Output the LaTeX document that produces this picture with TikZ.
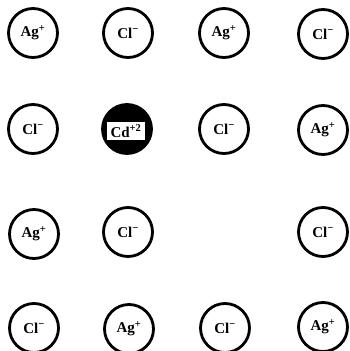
\documentclass[tikz,border=0pt]{standalone}
\usepackage{fontspec}
\setmainfont{Liberation Serif}
\begin{document}
\begin{tikzpicture}[x=1pt,y=-1pt]
\tikzset{
  ion/.style={circle,draw,line width=2.8pt,minimum size=49pt,inner sep=0pt,
    font=\bfseries\fontsize{15}{15}\selectfont},
  cdlabel/.style={rectangle,fill=white,inner sep=0pt,minimum width=38pt,minimum height=18pt,
    font=\bfseries\fontsize{15}{15}\selectfont}
}
\useasboundingbox (0,0) rectangle (349,351);
% row 1
\node[ion] (a11) at (33,33) {Ag\textsuperscript{+}};
\node[ion] (a12) at (128,33) {Cl\textsuperscript{−}};
\node[ion] (a13) at (224,33) {Ag\textsuperscript{+}};
\node[ion] (a14) at (323,34) {Cl\textsuperscript{−}};
% row 2
\node[ion] (a21) at (33,129) {Cl\textsuperscript{−}};
\node[ion,fill=black] (a22) at (127,129) {};
\node[cdlabel] (cd) at (126,131) {Cd\textsuperscript{+2}};
\node[ion] (a23) at (224,129) {Cl\textsuperscript{−}};
\node[ion] (a24) at (323,130) {Ag\textsuperscript{+}};
% row 3
\node[ion] (a31) at (34,234) {Ag\textsuperscript{+}};
\node[ion] (a32) at (128,232) {Cl\textsuperscript{−}};
\node[ion] (a34) at (323,232) {Cl\textsuperscript{−}};
% row 4
\node[ion] (a41) at (34,328) {Cl\textsuperscript{−}};
\node[ion] (a42) at (129,329) {Ag\textsuperscript{+}};
\node[ion] (a43) at (225,328) {Cl\textsuperscript{−}};
\node[ion] (a44) at (323,327) {Ag\textsuperscript{+}};
\end{tikzpicture}
\end{document}
